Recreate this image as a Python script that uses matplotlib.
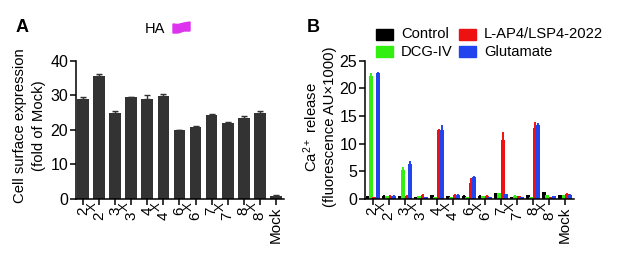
from matplotlib import pyplot as plt
from matplotlib.patches import Polygon, Rectangle
import numpy as np

plt.rcParams['font.family'] = ['Liberation Sans', 'DejaVu Sans']
plt.rcParams['mathtext.fontset'] = 'custom'
plt.rcParams['mathtext.rm'] = 'Liberation Sans'
plt.rcParams['mathtext.default'] = 'regular'

W, H = 617, 258

labels = ['2', '2X', '3', '3X', '4', '4X', '6', '6X', '7', '7X', '8', '8X', 'Mock']

surface = [28.8, 35.5, 25.0, 29.5, 28.9, 29.8, 19.9, 20.8, 24.2, 22.0, 23.5, 24.8, 1.0]
surface_err = [0.6, 0.7, 0.5, 0.1, 1.3, 0.7, 0.1, 0.2, 0.5, 0.2, 0.5, 0.6, 0.1]

control = [0.5, 0.6, 0.5, 0.35, 0.7, 0.55, 0.6, 0.6, 1.0, 0.3, 0.7, 1.2, 0.7]
control_err = [0.05, 0.05, 0.05, 0.05, 0.1, 0.05, 0.1, 0.05, 0.1, 0.05, 0.1, 0.1, 0.1]
dcg = [22.2, 0.5, 5.3, 0.5, 0.3, 0.4, 0.3, 0.5, 1.0, 0.6, 0.3, 0.7, 0.7]
dcg_err = [0.5, 0.05, 0.5, 0.05, 0.05, 0.05, 0.05, 0.05, 0.1, 0.1, 0.05, 0.1, 0.1]
lap4 = [0.4, 0.6, 0.6, 0.8, 12.5, 0.8, 2.9, 0.6, 10.6, 0.5, 12.9, 0.4, 0.9]
lap4_err = [0.05, 0.05, 0.05, 0.1, 0.2, 0.1, 0.9, 0.05, 1.6, 0.05, 1.0, 0.05, 0.1]
glu = [22.7, 0.6, 6.4, 0.3, 12.4, 0.8, 3.9, 0.3, 0.9, 0.4, 13.3, 0.5, 0.8]
glu_err = [0.3, 0.05, 0.4, 0.05, 0.9, 0.1, 0.2, 0.05, 0.05, 0.05, 0.5, 0.05, 0.1]

series = [('Control', control, control_err, '#000000'),
          ('DCG-IV', dcg, dcg_err, '#33ee11'),
          ('L-AP4/LSP4-2022', lap4, lap4_err, '#ee1111'),
          ('Glutamate', glu, glu_err, '#2244ee')]


def pixel_axes(fig, left, right, top, bottom):
    return fig.add_axes([left / W, 1 - bottom / H, (right - left) / W, (bottom - top) / H])


def style(ax):
    ax.spines['top'].set_visible(False)
    ax.spines['right'].set_visible(False)
    ax.spines['left'].set_linewidth(1.1)
    ax.spines['bottom'].set_linewidth(1.1)
    ax.tick_params(axis='y', labelsize=11.5, width=1.1, length=4, pad=1.5)
    ax.tick_params(axis='x', labelsize=11, width=1.1, length=4, pad=1.5)
    ax.set_xticks(range(len(labels)))
    # the X sits up and to the left of its digit, so it gets its own text
    ax.set_xticklabels([s.rstrip('X') for s in labels], rotation=90)
    for i, s in enumerate(labels):
        if s.endswith('X'):
            ax.xaxis.get_major_ticks()[i].set_pad(5)
            ax.annotate('X', (i, 0), xycoords=('data', 'axes fraction'),
                        xytext=(-4.8, -5.8), textcoords='offset points', rotation=90,
                        fontsize=9.5, ha='center', va='center', annotation_clip=False)


fig = plt.figure(figsize=(W / 100, H / 100), dpi=100)
x = np.arange(len(labels))

# panel A
ax1 = pixel_axes(fig, 76, 284, 60.7, 199)
ax1.bar(x, surface, width=0.74, color='#333333')
ax1.errorbar(x, surface, yerr=[[0] * len(x), surface_err], fmt='none',
             ecolor='#333333', elinewidth=1, capsize=2.5, capthick=1)
ax1.set_xlim(-0.455, 12.52)
ax1.set_ylim(0, 40)
ax1.set_yticks([0, 10, 20, 30, 40])
style(ax1)
fig.text(29.5 / W, 1 - 126 / H, 'Cell surface expression\n(fold of Mock)', fontsize=10.7,
         rotation=90, ha='center', va='center', multialignment='center', linespacing=1.45)

# panel B
ax2 = pixel_axes(fig, 365, 574, 60.7, 199)
bar_w = 0.24
step = 0.215
for i, (name, vals, errs, col) in enumerate(series):
    pos = x + (i - 1.5) * step
    ax2.bar(pos, vals, width=bar_w, color=col, label=name)
    ax2.errorbar(pos, vals, yerr=[[0] * len(x), errs], fmt='none',
                 ecolor=col, elinewidth=1.4)
ax2.set_xlim(-0.48, 12.55)
ax2.set_ylim(0, 25)
ax2.set_yticks([0, 5, 10, 15, 20, 25])
style(ax2)
fig.text(319 / W, 1 - 127 / H, 'Ca$^{2+}$ release\n(fluorescence AU\u00d71000)', fontsize=10.7,
         rotation=90, ha='center', va='center', multialignment='center', linespacing=1.3)

# legend swatches and names, two columns like the panel
leg_names = [s[0] for s in series]
leg_cols = [s[3] for s in series]
leg_pos = [(376, 34), (376, 51.5), (459, 34), (459, 51.5)]
for name, col, (lx, ly) in zip(leg_names, leg_cols, leg_pos):
    fig.add_artist(Rectangle((lx / W, 1 - (ly + 5.5) / H), 17 / W, 11 / H, color=col,
                             transform=fig.transFigure))
    fig.text((lx + 25) / W, 1 - ly / H, name, fontsize=10.6, va='center')

# panel letters and HA flag
fig.text(16 / W, 1 - 27 / H, 'A', fontsize=13, fontweight='bold', va='center')
fig.text(307 / W, 1 - 27 / H, 'B', fontsize=13, fontweight='bold', va='center')
fig.text(144.5 / W, 1 - 29 / H, 'HA', fontsize=10.5, va='center')
flag = [(173, 24), (178, 24.5), (184, 23), (190, 22), (190, 31), (184, 31), (178, 33), (173, 33)]
fig.add_artist(Polygon([(a / W, 1 - b / H) for a, b in flag], closed=True, color='#dd33ee',
                       transform=fig.transFigure))

fig.savefig('out.png', dpi=100)
